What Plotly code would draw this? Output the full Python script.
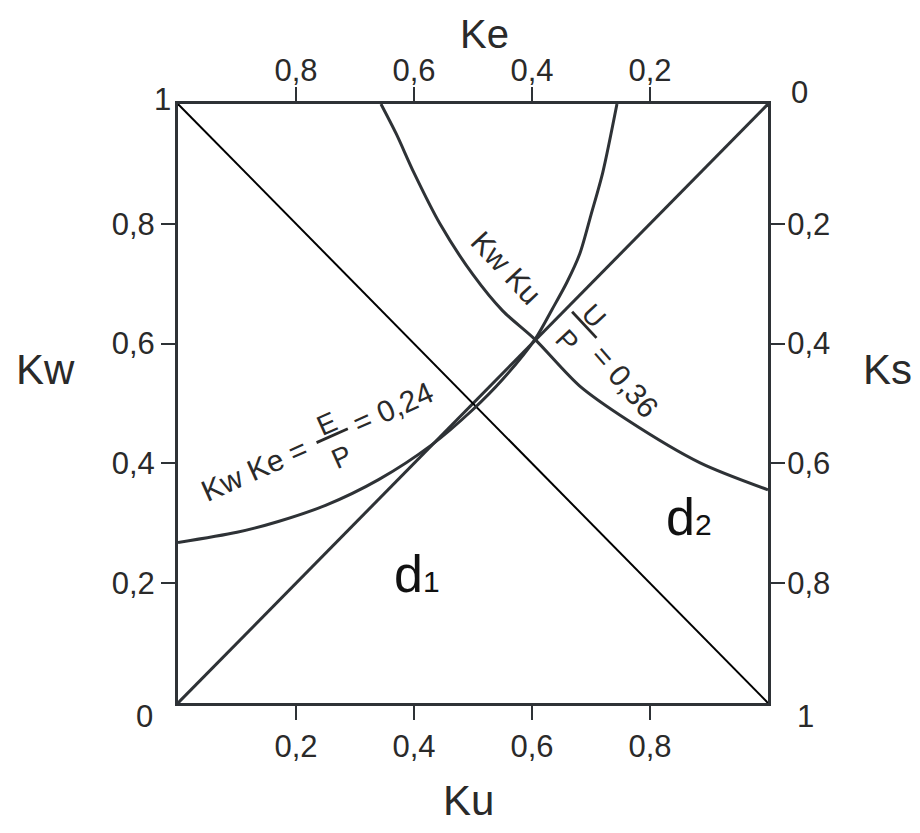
import plotly.graph_objects as go

# ---------------- data ----------------
# axis ticks
tick_vals = [0.2, 0.4, 0.6, 0.8]
tick_text = ["0,2", "0,4", "0,6", "0,8"]

# diagonal Ku = Kw  and anti-diagonal Ku + Kw = 1
diag_ku = [0.0, 1.0]
diag_kw = [0.0, 1.0]
anti_ku = [0.0, 1.0]
anti_kw = [1.0, 0.0]

# curve Kw*Ke = E/P = 0,24   (Ku, Kw)
ke_ku = [0.0, 0.10, 0.17, 0.25, 0.34, 0.43, 0.50, 0.55, 0.605, 0.634, 0.659, 0.681, 0.70, 0.72, 0.744]
ke_kw = [0.268, 0.285, 0.303, 0.330, 0.373, 0.431, 0.49, 0.54, 0.607, 0.657, 0.702, 0.750, 0.815, 0.886, 1.0]

# curve Kw*Ku = U/P = 0,36   (Ku, Kw)
ku_ku = [0.344, 0.37, 0.40, 0.444, 0.50, 0.55, 0.605, 0.68, 0.761, 0.885, 1.0]
ku_kw = [1.0, 0.95, 0.885, 0.80, 0.715, 0.655, 0.607, 0.53, 0.473, 0.401, 0.356]

# ---------------- styling ----------------
FONT = "Liberation Sans, Arial, sans-serif"
DARK = "#2e3236"
TXT = "#2a2a2a"

fig = go.Figure()
fig.add_trace(go.Scatter(x=diag_ku, y=diag_kw, mode="lines",
                         line=dict(color=DARK, width=3), hoverinfo="skip"))
fig.add_trace(go.Scatter(x=anti_ku, y=anti_kw, mode="lines",
                         line=dict(color="#000000", width=2), hoverinfo="skip"))
fig.add_trace(go.Scatter(x=ke_ku, y=ke_kw, mode="lines",
                         line=dict(color=DARK, width=3, shape="spline", smoothing=0.8),
                         hoverinfo="skip"))
fig.add_trace(go.Scatter(x=ku_ku, y=ku_kw, mode="lines",
                         line=dict(color=DARK, width=3, shape="spline", smoothing=0.8),
                         hoverinfo="skip"))
# empty trace to attach the Ke / Ks axes
fig.add_trace(go.Scatter(x=[], y=[], xaxis="x2", yaxis="y2", mode="lines", hoverinfo="skip"))

tickfont = dict(family=FONT, size=31, color=TXT)
common = dict(tickvals=tick_vals, ticktext=tick_text, ticks="outside", ticklen=14,
              tickwidth=2, tickcolor=DARK, showline=True, linecolor=DARK, linewidth=3,
              showgrid=False, zeroline=False, tickfont=tickfont, fixedrange=True)

fig.update_layout(
    width=920, height=833,
    margin=dict(l=170, r=160, t=96, b=138),
    paper_bgcolor="white", plot_bgcolor="white",
    showlegend=False,
    xaxis=dict(range=[0, 1], side="bottom", ticklabelstandoff=0, **common),
    yaxis=dict(range=[0, 1], side="left", ticklabelstandoff=0, **common),
    xaxis2=dict(range=[1, 0], side="top", overlaying="x", anchor="y",
                ticklabelstandoff=-6, **common),
    yaxis2=dict(range=[1, 0], side="right", overlaying="y", anchor="x",
                ticklabelstandoff=-4, **common),
)

ann = []
def txt(text, x, y, size, xref="paper", yref="paper", angle=0, color=TXT):
    ann.append(dict(text=text, x=x, y=y, xref=xref, yref=yref, showarrow=False,
                    textangle=angle, font=dict(family=FONT, size=size, color=color),
                    xanchor="center", yanchor="middle"))

# axis titles
txt("Ke", 0.520, 1.117, 40)
txt("Ku", 0.492, -0.162, 42)
txt("Kw", -0.225, 0.556, 42)
txt("Ks", 1.202, 0.556, 42)
# corner labels
txt("1", -0.027, 1.007, 31)
txt("0", 1.054, 1.020, 31)
txt("0", -0.056, -0.022, 31)
txt("1", 1.064, -0.022, 31)
# region labels
txt("d<span style='font-size:30px'>1</span>", 0.405, 0.215, 52, "x", "y", color="#111111")
txt("d<span style='font-size:30px'>2</span>", 0.866, 0.310, 52, "x", "y", color="#111111")
# curve labels
txt("Kw Ke =", 0.130, 0.390, 30, "x", "y", angle=-24)
txt("<u>\u00a0E\u00a0</u><br>P", 0.264, 0.439, 28, "x", "y", angle=-24)
txt("= 0,24", 0.365, 0.493, 30, "x", "y", angle=-24)
txt("Kw Ku", 0.556, 0.727, 30, "x", "y", angle=47)
txt("<u>\u00a0U\u00a0</u><br>P", 0.683, 0.626, 28, "x", "y", angle=47)
txt("= 0,36", 0.758, 0.537, 30, "x", "y", angle=49)

fig.update_layout(annotations=ann)
fig.write_html("out.html")
